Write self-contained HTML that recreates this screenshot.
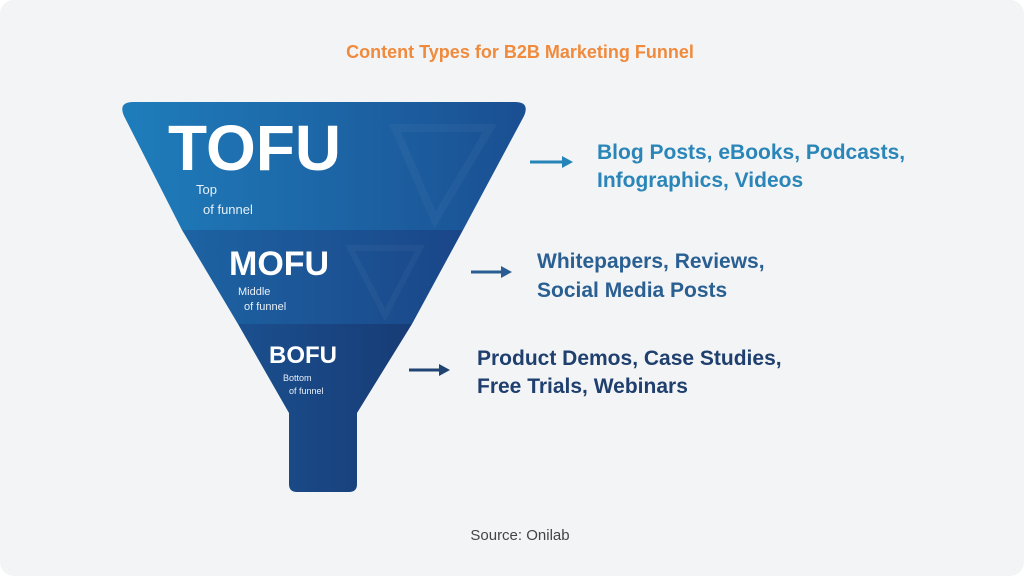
<!DOCTYPE html>
<html><head><meta charset="utf-8"><style>
html,body{margin:0;padding:0;background:#fff;}
body{width:1024px;height:576px;overflow:hidden;font-family:"Liberation Sans","DejaVu Sans",sans-serif;}
</style></head><body>
<svg width="1024" height="576" viewBox="0 0 1024 576" xmlns="http://www.w3.org/2000/svg" font-family="Liberation Sans, DejaVu Sans, sans-serif">
<defs>
<linearGradient id="gt" x1="0" y1="0" x2="1" y2="0"><stop offset="0" stop-color="#1f7dbb"/><stop offset="1" stop-color="#1a4f92"/></linearGradient>
<linearGradient id="gm" x1="0" y1="0" x2="1" y2="0"><stop offset="0" stop-color="#1d63a3"/><stop offset="1" stop-color="#1a4688"/></linearGradient>
<linearGradient id="gb" x1="0" y1="0" x2="1" y2="0"><stop offset="0" stop-color="#1a4f8e"/><stop offset="1" stop-color="#183c76"/></linearGradient>
</defs>
<rect x="0" y="0" width="1024" height="576" rx="14" fill="#f3f4f6"/>
<text x="520" y="58" text-anchor="middle" font-size="18" font-weight="bold" fill="#f08a3c">Content Types for B2B Marketing Funnel</text>
<path d="M133,102 L515,102 Q530,102 524,116 L463,230 L182,230 L124,116 Q118,102 133,102 Z" fill="url(#gt)"/>
<path d="M182,230 L463,230 L412,324 L238,324 Z" fill="url(#gm)"/>
<path d="M238,324 L412,324 L357,413 L357,484 Q357,492 349,492 L297,492 Q289,492 289,484 L289,413 Z" fill="url(#gb)"/>
<path d="M395,128 L490,128 L435,220 Z" fill="none" stroke="#ffffff" stroke-opacity="0.035" stroke-width="8"/>
<path d="M350,248 L420,248 L385,315 Z" fill="none" stroke="#ffffff" stroke-opacity="0.035" stroke-width="6"/>
<text x="168" y="170" font-size="64" font-weight="bold" fill="#fff">TOFU</text>
<text x="196" y="194" font-size="13" fill="#e8f0f8">Top</text>
<text x="203" y="214" font-size="13" fill="#e8f0f8">of funnel</text>
<text x="229" y="275" font-size="34" font-weight="bold" fill="#fff">MOFU</text>
<text x="238" y="295" font-size="11" fill="#e8f0f8">Middle</text>
<text x="244" y="310" font-size="11" fill="#e8f0f8">of funnel</text>
<text x="269" y="363" font-size="24" font-weight="bold" fill="#fff">BOFU</text>
<text x="283" y="381" font-size="9" fill="#e8f0f8">Bottom</text>
<text x="289" y="394" font-size="9" fill="#e8f0f8">of funnel</text>
<g stroke-width="3" fill="none"><line x1="530" y1="162" x2="566" y2="162" stroke="#2584b8"/><line x1="471" y1="272" x2="505" y2="272" stroke="#2a5e92"/><line x1="409" y1="370" x2="443" y2="370" stroke="#1f4373"/></g>
<path d="M562,156 L573,162 L562,168 Z" fill="#2584b8"/>
<path d="M501,266 L512,272 L501,278 Z" fill="#2a5e92"/>
<path d="M439,364 L450,370 L439,376 Z" fill="#1f4373"/>
<g font-size="21" font-weight="bold">
<text x="597" y="159" fill="#2a86b8">Blog Posts, eBooks, Podcasts,</text>
<text x="597" y="187" fill="#2a86b8">Infographics, Videos</text>
<text x="537" y="268" fill="#2a5f92">Whitepapers, Reviews,</text>
<text x="537" y="297" fill="#2a5f92">Social Media Posts</text>
<text x="477" y="365" fill="#1f3f6e">Product Demos, Case Studies,</text>
<text x="477" y="393" fill="#1f3f6e">Free Trials, Webinars</text>
</g>
<text x="520" y="540" text-anchor="middle" font-size="15" fill="#444">Source: Onilab</text>
</svg>
</body></html>
